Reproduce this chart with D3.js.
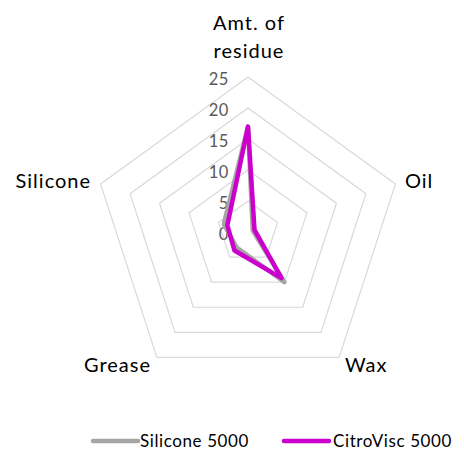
<!DOCTYPE html>
<html>
<head>
<meta charset="utf-8">
<script src="https://cdn.jsdelivr.net/npm/d3@7"></script>
<style>
  html, body { margin: 0; padding: 0; background: #fff; }
  svg { display: block; }
  text { font-family: Lato, "Open Sans", sans-serif; }
</style>
</head>
<body>
<svg id="chart" width="464" height="451"></svg>
<script>
const categories = ["Amt. of residue", "Oil", "Wax", "Grease", "Silicone"];
const silicone5000 = [17, 0.8, 10, 3.1, 4.1];
const citroVisc5000 = [17, 1.1, 9.2, 3.7, 3.5];
const tickValues = [0, 5, 10, 15, 20, 25];
const seriesNames = ["Silicone 5000", "CitroVisc 5000"];
const seriesColors = ["#A5A5A5", "#CC00CC"];

const W = 464, H = 451;
const cx = 248, cy = 232, R = 155;
const svg = d3.select("#chart");
const g = svg.append("g").attr("transform", `translate(${cx},${cy})`);

const rScale = d3.scaleLinear().domain([0, 25]).range([0, R]);
const angle = d3.scaleLinear().domain([0, categories.length]).range([0, 2 * Math.PI]);

// Grid rings
const ring = d3.lineRadial()
  .angle((d, i) => angle(i))
  .radius(d => rScale(d))
  .curve(d3.curveLinearClosed);

tickValues.filter(v => v > 0).forEach(v => {
  g.append("path")
    .attr("d", ring(categories.map(() => v)))
    .attr("fill", "none")
    .attr("stroke", "#d9d9d9")
    .attr("stroke-width", 1.2);
});

// Tick labels
g.selectAll(".tick").data(tickValues).enter().append("text")
  .attr("x", -19)
  .attr("y", d => -rScale(d) + 2)
  .attr("text-anchor", "end")
  .attr("dominant-baseline", "central")
  .attr("fill", "#595959")
  .attr("font-size", 16.5)
  .attr("letter-spacing", 0.6)
  .text(d => d);

// Series
const series = [silicone5000, citroVisc5000];
series.forEach((vals, si) => {
  g.append("path")
    .attr("d", ring(vals))
    .attr("fill", "none")
    .attr("stroke", seriesColors[si])
    .attr("stroke-width", 4.5)
    .attr("stroke-linejoin", "round");
});

// Category labels
const pad = 10;
categories.forEach((c, i) => {
  const a = angle(i);
  const x = Math.sin(a) * (R + pad);
  const y = -Math.cos(a) * (R + pad);
  if (i === 0) {
    const words = ["Amt. of", "residue"];
    words.forEach((w, k) => {
      g.append("text")
        .attr("x", 1)
        .attr("y", -rScale(25) - 19 - (words.length - 1 - k) * 28)
        .attr("text-anchor", "middle")
        .attr("fill", "#000")
        .attr("font-size", 20)
        .attr("letter-spacing", 1)
        .text(w);
    });
  } else {
    g.append("text")
      .attr("x", x)
      .attr("y", y)
      .attr("dy", "0.35em")
      .attr("text-anchor", x > 0 ? "start" : "end")
      .attr("fill", "#000")
      .attr("font-size", 20)
      .attr("letter-spacing", 1)
      .text(c);
  }
});

// Legend
const legendY = 441;
const legendItems = [{x: 93, tx: 140}, {x: 284, tx: 333}];
seriesNames.forEach((name, i) => {
  const it = legendItems[i];
  svg.append("line")
    .attr("x1", it.x).attr("x2", it.x + 45)
    .attr("y1", legendY).attr("y2", legendY)
    .attr("stroke", seriesColors[i])
    .attr("stroke-width", 4.5)
    .attr("stroke-linecap", "round");
  svg.append("text")
    .attr("x", it.tx)
    .attr("y", legendY)
    .attr("dy", "0.35em")
    .attr("fill", "#000")
    .attr("font-size", 17)
    .attr("letter-spacing", 0.6)
    .text(name);
});
</script>
</body>
</html>
